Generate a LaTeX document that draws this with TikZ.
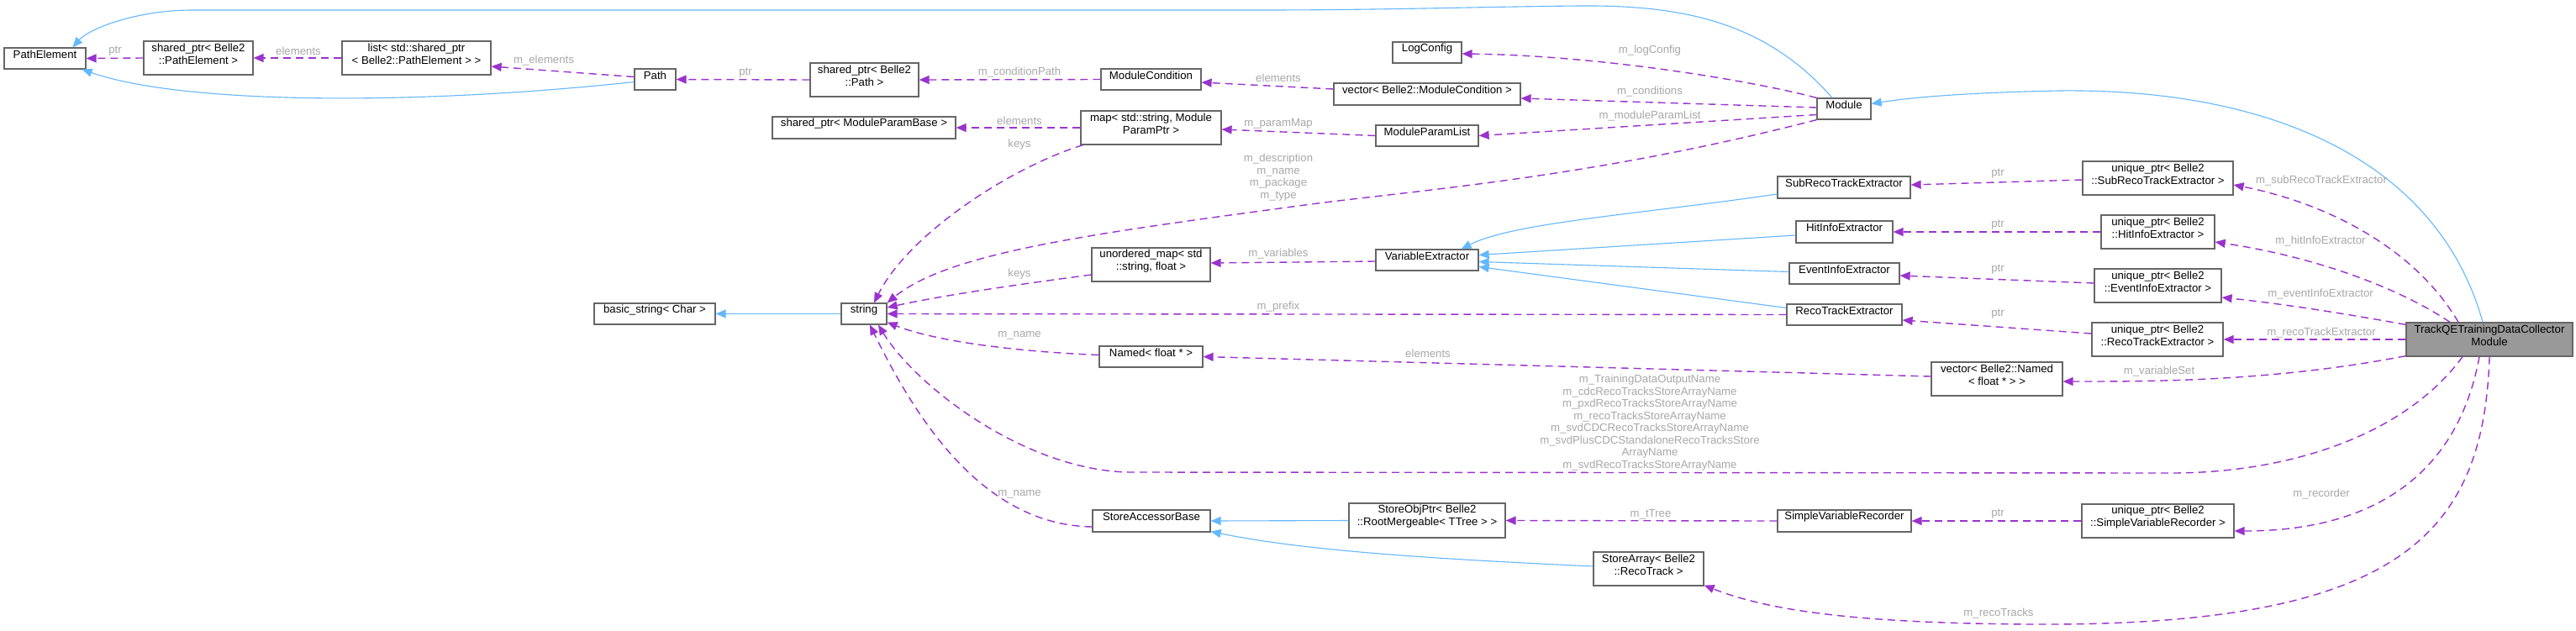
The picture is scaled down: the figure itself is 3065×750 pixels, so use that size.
\documentclass[tikz,border=0pt]{standalone}
\usepackage{fontspec}
\setmainfont{Liberation Sans}
\usetikzlibrary{arrows.meta,calc,fit}
\definecolor{inhc}{HTML}{63B8FF}
\definecolor{usec}{HTML}{9A32CD}
\definecolor{lblc}{HTML}{A8A8A8}
\definecolor{bordc}{HTML}{666666}
\definecolor{tqefill}{HTML}{999999}
\tikzset{
 box/.style={draw=bordc, fill=white, line width=0.6pt, inner sep=0pt, font=\fontsize{6.6}{7.5}\selectfont, align=center},
 lbox/.style={box, align=left},
 inh/.style={draw=inhc, line width=0.55pt, -{Triangle[length=6pt,width=5pt]}},
 usg/.style={draw=usec, line width=0.7pt, dash pattern=on 4.5pt off 3pt, -{Triangle[length=6pt,width=5pt]}},
 lbl/.style={text=lblc, font=\fontsize{6.6}{7.25}\selectfont, align=center, inner sep=0pt},
}
\begin{document}
\begin{tikzpicture}[x=0.5pt,y=-0.5pt]
\useasboundingbox[fill=white] (0,0) rectangle (3065,750);
% nodes
\node[box, fit={(5,57)(102,82)}] (PE) {PathElement};
\node[box, fit={(171,49)(301,89)}] (SPPE) {shared\_ptr< Belle2\\::PathElement >};
\node[lbox, fit={(407,49)(584,89)}] (LIST) {list< std::shared\_ptr\\< Belle2::PathElement > >};
\node[box, fit={(755,82)(804,107)}] (PATH) {Path};
\node[box, fit={(964,75)(1093,115)}] (SPPATH) {shared\_ptr< Belle2\\::Path >};
\node[box, fit={(1310,82)(1429,107)}] (MC) {ModuleCondition};
\node[box, fit={(919,139)(1137,165)}] (SPMPB) {shared\_ptr< ModuleParamBase >};
\node[box, fit={(1286,132)(1453,172)}] (MAP) {map< std::string, Module\\ParamPtr >};
\node[box, fit={(1657,50)(1739,75)}] (LOG) {LogConfig};
\node[box, fit={(1587,99)(1809,125)}] (VMC) {vector< Belle2::ModuleCondition >};
\node[box, fit={(1637,149)(1759,174)}] (MPL) {ModuleParamList};
\node[box, fit={(2162,117)(2226,142)}] (MOD) {Module};
\node[box, fit={(2115,210)(2273,236)}] (SUBRE) {SubRecoTrackExtractor};
\node[lbox, fit={(2478,192)(2657,232)}] (UPSUB) {unique\_ptr< Belle2\\::SubRecoTrackExtractor >};
\node[lbox, fit={(2500,256)(2635,296)}] (UPHIT) {unique\_ptr< Belle2\\::HitInfoExtractor >};
\node[lbox, fit={(2492,320)(2643,360)}] (UPEV) {unique\_ptr< Belle2\\::EventInfoExtractor >};
\node[lbox, fit={(2489,384)(2645,424)}] (UPRT) {unique\_ptr< Belle2\\::RecoTrackExtractor >};
\node[box, fill=tqefill, fit={(2863,384)(3061,424)}] (TQE) {TrackQETrainingDataCollector\\Module};
\node[box, fit={(2298,431)(2454,471)}] (VNAMED) {vector< Belle2::Named\\< float * > >};
\node[lbox, fit={(2477,600)(2658,640)}] (UPSVR) {unique\_ptr< Belle2\\::SimpleVariableRecorder >};
\node[box, fit={(707,361)(851,386)}] (BS) {basic\_string< Char >};
\node[box, fit={(1001,361)(1055,386)}] (STR) {string};
\node[box, fit={(1299,295)(1440,335)}] (UMAP) {unordered\_map< std\\::string, float >};
\node[box, fit={(1308,412)(1431,437)}] (NAMED) {Named< float * >};
\node[box, fit={(1637,297)(1759,322)}] (VE) {VariableExtractor};
\node[box, fit={(2137,263)(2252,289)}] (HIT) {HitInfoExtractor};
\node[box, fit={(2129,313)(2260,338)}] (EVT) {EventInfoExtractor};
\node[box, fit={(2126,362)(2263,387)}] (RTE) {RecoTrackExtractor};
\node[box, fit={(1300,607)(1440,633)}] (SAB) {StoreAccessorBase};
\node[lbox, fit={(1605,599)(1791,640)}] (SOP) {StoreObjPtr< Belle2\\::RootMergeable< TTree > >};
\node[box, fit={(2115,607)(2274,633)}] (SVR) {SimpleVariableRecorder};
\node[box, fit={(1896,657)(2027,697)}] (SA) {StoreArray< Belle2\\::RecoTrack >};
% inheritance edges
\draw[inh] ($(PATH.west)+(0,3)$) .. controls (500,125) and (220,125) .. ($(PE.south east)+(-5,0)$);
\draw[inh] ($(MOD.north)+(-14,0)$) .. controls (2100,25) and (2000,6) .. (1880,7) .. controls (1760,8) and (1650,12) .. (1500,12) -- (230,12) .. controls (160,12) and (105,35) .. ($(PE.north)+(33,0)$);
\draw[inh] ($(TQE.north)+(-8,0)$) .. controls (2900,190) and (2700,105) .. (2450,108) .. controls (2350,110) and (2280,115) .. ($(MOD.east)+(0,-6)$);
\draw[inh] (STR.west) -- (BS.east);
\draw[inh] ($(SUBRE.west)+(0,8)$) .. controls (1950,255) and (1800,265) .. ($(VE.north east)+(-21,0)$);
\draw[inh] ($(HIT.west)+(0,4)$) -- ($(VE.east)+(0,-6)$);
\draw[inh] ($(EVT.west)+(0,-2)$) -- ($(VE.east)+(0,2)$);
\draw[inh] ($(RTE.west)+(0,-8)$) -- ($(VE.east)+(0,8)$);
\draw[inh] (SOP.west) -- (SAB.east);
\draw[inh] ($(SA.west)+(0,-3)$) .. controls (1700,665) and (1550,655) .. ($(SAB.south east)+(0,-1)$);
% usage edges
\draw[usg] (SPPE.west) -- (PE.east);
\draw[usg] (LIST.west) -- (SPPE.east);
\draw[usg] ($(PATH.west)+(0,-3)$) -- ($(LIST.east)+(0,10)$);
\draw[usg] (SPPATH.west) -- (PATH.east);
\draw[usg] (MC.west) -- (SPPATH.east);
\draw[usg] ($(VMC.west)+(0,-6)$) -- ($(MC.east)+(0,3.5)$);
\draw[usg] (MOD.north west) .. controls (2080,95) and (1900,66) .. ($(LOG.east)+(0,1.5)$);
\draw[usg] ($(MOD.west)+(0,-1.5)$) -- ($(VMC.east)+(0,5)$);
\draw[usg] ($(MOD.west)+(0,7)$) -- (MPL.east);
\draw[usg] (MPL.west) -- ($(MAP.east)+(0,2)$);
\draw[usg] (MAP.west) -- (SPMPB.east);
\draw[usg] ($(MAP.south west)+(3,0)$) .. controls (1200,200) and (1080,280) .. ($(STR.north)+(12,0)$);
\draw[usg] (MOD.south west) .. controls (1900,210) and (1700,225) .. (1560,243) .. controls (1300,278) and (1130,300) .. (STR.north east);
\draw[usg] ($(UMAP.west)+(0,12)$) .. controls (1200,340) and (1120,352) .. ($(STR.east)+(0,-7.5)$);
\draw[usg] ($(VE.west)+(0,1.5)$) -- ($(UMAP.east)+(0,-2)$);
\draw[usg] (RTE.west) -- (STR.east);
\draw[usg] ($(NAMED.west)+(0,-2)$) .. controls (1200,418) and (1110,405) .. ($(STR.south east)+(0,-3)$);
\draw[usg] ($(VNAMED.west)+(0,-3)$) -- (NAMED.east);
\draw[usg] ($(TQE.south)+(-32,0)$) .. controls (2860,520) and (2720,563) .. (2583,563) -- (1344,562) .. controls (1220,560) and (1090,460) .. ($(STR.south)+(17,0)$);
\draw[usg] ($(SAB.west)+(0,7)$) .. controls (1180,625) and (1100,520) .. ($(STR.south)+(7,0)$);
\draw[usg] ($(UPSUB.west)+(0,2)$) -- ($(SUBRE.east)+(0,-3)$);
\draw[usg] (UPHIT.west) -- (HIT.east);
\draw[usg] ($(UPEV.west)+(0,-3)$) -- ($(EVT.east)+(0,2.5)$);
\draw[usg] ($(UPRT.west)+(0,-7)$) -- ($(RTE.east)+(0,6.5)$);
\draw[usg] ($(TQE.north)+(-37,0)$) .. controls (2870,290) and (2760,240) .. ($(UPSUB.east)+(0,8)$);
\draw[usg] ($(TQE.north)+(-47,0)$) .. controls (2850,340) and (2750,305) .. ($(UPHIT.east)+(0,12)$);
\draw[usg] ($(TQE.north west)+(0,3)$) .. controls (2800,375) and (2720,362) .. ($(UPEV.east)+(0,14)$);
\draw[usg] (TQE.west) -- (UPRT.east);
\draw[usg] ($(TQE.south west)+(0,-1)$) .. controls (2700,455) and (2550,454) .. ($(VNAMED.east)+(0,3)$);
\draw[usg] (UPSVR.west) -- (SVR.east);
\draw[usg] (SVR.west) -- (SOP.east);
\draw[usg] ($(TQE.south)+(-12,0)$) .. controls (2925,560) and (2830,632) .. ($(UPSVR.east)+(0,12)$);
\draw[usg] (TQE.south) .. controls (2955,640) and (2850,745) .. (2420,743) .. controls (2200,742) and (2100,725) .. ($(SA.south east)+(0,-1)$);
% labels
\node[lbl] (L1) at (137,61) {ptr};
\node[lbl] (L2) at (355,61) {elements};
\node[lbl] (L3) at (647,72) {m\_elements};
\node[lbl] (L4) at (887,87) {ptr};
\node[lbl] (L5) at (1213,86) {m\_conditionPath};
\node[lbl] (L6) at (1521,93) {elements};
\node[lbl] (L7) at (1213,144) {elements};
\node[lbl] (L8) at (1213,172) {keys};
\node[lbl] (L9) at (1521,147) {m\_paramMap};
\node[lbl] (L10) at (1963,60) {m\_logConfig};
\node[lbl] (L11) at (1963,109) {m\_conditions};
\node[lbl] (L12) at (1963,138) {m\_moduleParamList};
\node[lbl] (L13) at (1521,211) {m\_description\\m\_name\\m\_package\\m\_type};
\node[lbl] (L14) at (1213,326) {keys};
\node[lbl] (L15) at (1521,302) {m\_variables};
\node[lbl] (L16) at (1521,365) {m\_prefix};
\node[lbl] (L17) at (1213,399) {m\_name};
\node[lbl] (L18) at (1699,421) {elements};
\node[lbl] (L19) at (1963,503) {m\_TrainingDataOutputName\\m\_cdcRecoTracksStoreArrayName\\m\_pxdRecoTracksStoreArrayName\\m\_recoTracksStoreArrayName\\m\_svdCDCRecoTracksStoreArrayName\\m\_svdPlusCDCStandaloneRecoTracksStore\\ArrayName\\m\_svdRecoTracksStoreArrayName};
\node[lbl] (L20) at (1213,588) {m\_name};
\node[lbl] (L21) at (1964,612) {m\_tTree};
\node[lbl] (L22) at (2377,207) {ptr};
\node[lbl] (L23) at (2377,268) {ptr};
\node[lbl] (L24) at (2377,321) {ptr};
\node[lbl] (L25) at (2377,374) {ptr};
\node[lbl] (L26) at (2377,612) {ptr};
\node[lbl] (L27) at (2762,215) {m\_subRecoTrackExtractor};
\node[lbl] (L28) at (2761,287) {m\_hitInfoExtractor};
\node[lbl] (L29) at (2761,350) {m\_eventInfoExtractor};
\node[lbl] (L30) at (2762,396) {m\_recoTrackExtractor};
\node[lbl] (L31) at (2569,442) {m\_variableSet};
\node[lbl] (L32) at (2762,588) {m\_recorder};
\node[lbl] (L33) at (2378,730) {m\_recoTracks};
\end{tikzpicture}
\end{document}
